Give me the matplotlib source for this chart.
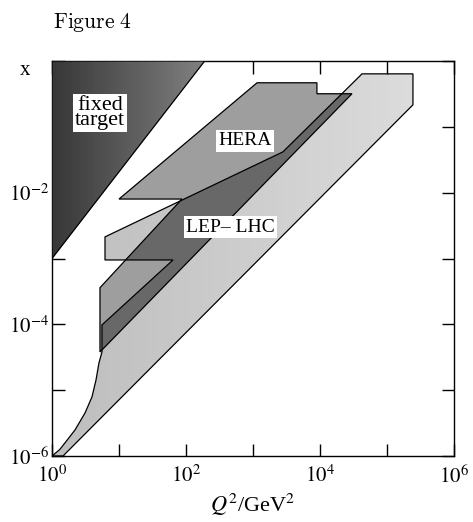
import numpy as np
import matplotlib.pyplot as plt
from matplotlib.patches import Polygon

plt.rcParams['font.family'] = ['Liberation Serif', 'DejaVu Serif']
plt.rcParams['mathtext.fontset'] = 'stix'

# kinematic regions (Q^2 in GeV^2, x)
fixed_q2 = [1, 190, 1]
fixed_x = [1, 1, 1e-3]

hera_q2 = [1150, 9000, 9000, 30000, 5.2, 5.2, 87, 10]
hera_x = [0.467, 0.467, 0.318, 0.318, 3.8e-5, 3.6e-4, 8.0e-3, 8.0e-3]

lep_q2 = [42400, 244000, 244000, 1.46, 1.0, 1.3, 1.56, 2.2, 3.11, 3.95, 4.54,
          5.02, 5.57, 5.57, 64, 6.18, 6.18, 2800]
lep_x = [0.638, 0.638, 0.216, 1e-6, 1e-6, 1.25e-6, 1.58e-6, 2.48e-6, 4.5e-6,
         7.9e-6, 1.43e-5, 2.59e-5, 3.8e-5, 9.8e-5, 9.5e-4, 9.5e-4, 2.13e-3, 0.0417]

xticks = [1, 10, 1e2, 1e3, 1e4, 1e5, 1e6]
xticklabels = ['$10^0$', '', '$10^2$', '', '$10^4$', '', '$10^6$']
yticks = [1e-6, 1e-5, 1e-4, 1e-3, 1e-2, 1e-1, 1]
yticklabels = ['$10^{-6}$', '', '$10^{-4}$', '', '$10^{-2}$', '', '']

fig = plt.figure(figsize=(4.73, 5.22), dpi=100)
ax = fig.add_axes([52/473, 66/522, 402/473, 395/522])
ax.set_xscale('log')
ax.set_yscale('log')
ax.set_xlim(1, 1e6)
ax.set_ylim(1e-6, 1)

# LEP-LHC (light), HERA (medium), overlap (dark)
lep = Polygon(np.column_stack([lep_q2, lep_x]), closed=True,
              facecolor='none', edgecolor='none', zorder=1)
ax.add_patch(lep)
qe = np.logspace(0, 5.5, 60)
lep_shade = np.linspace(0.74, 0.86, 59)[None, :]
lmesh = ax.pcolormesh(qe, [1e-6, 1], lep_shade, cmap='gray', vmin=0, vmax=1,
                      shading='flat', zorder=1)
lmesh.set_clip_path(lep)

hera = Polygon(np.column_stack([hera_q2, hera_x]), closed=True,
               facecolor='#9e9e9e', edgecolor='none', zorder=2)
ax.add_patch(hera)
overlap = Polygon(np.column_stack([hera_q2, hera_x]), closed=True,
                  facecolor='#686868', edgecolor='none', zorder=3)
ax.add_patch(overlap)
overlap.set_clip_path(lep)

for q, xx in [(lep_q2, lep_x), (hera_q2, hera_x)]:
    ax.add_patch(Polygon(np.column_stack([q, xx]), closed=True, facecolor='none',
                         edgecolor='black', lw=0.9, zorder=4))

# fixed target, dark towards the left edge
ft = Polygon(np.column_stack([fixed_q2, fixed_x]), closed=True, facecolor='none',
             edgecolor='black', lw=0.9, zorder=5)
ax.add_patch(ft)
qf = np.logspace(0, 2.3, 40)
shade = np.linspace(0.22, 0.5, 39)[None, :]
mesh = ax.pcolormesh(qf, [1e-3, 1], shade, cmap='gray', vmin=0, vmax=1,
                     shading='flat', zorder=4.5)
mesh.set_clip_path(ft)

box = dict(facecolor='white', edgecolor='none', pad=1.5)
ax.text(5.2, 0.163, 'fixed\ntarget', fontsize=16, ha='center', va='center',
        linespacing=0.72, bbox=box, zorder=6)
ax.text(760, 0.061, 'HERA', fontsize=14, ha='center', va='center', bbox=box, zorder=6)
ax.text(454, 3.0e-3, 'LEP– LHC', fontsize=14, ha='center', va='center', bbox=box, zorder=6)

ax.minorticks_off()
ax.set_xticks(xticks)
ax.set_xticklabels(xticklabels)
ax.set_yticks(yticks)
ax.set_yticklabels(yticklabels)
ax.tick_params(direction='in', length=9, width=1, top=True, right=True,
               labelsize=15)
ax.tick_params(axis='x', pad=7)
ax.tick_params(axis='y', pad=2)
for s in ax.spines.values():
    s.set_linewidth(1.0)

ax.set_xlabel('$Q^2$/GeV$^2$', fontsize=16, labelpad=3)
ax.text(-0.066, 0.975, 'x', transform=ax.transAxes, fontsize=15,
        ha='center', va='center')

fig.text(53/473, 1 - 22/522, r'$\mathrm{Figure\ 4}$', math_fontfamily='cm',
         fontsize=15.5, ha='left', va='center')

fig.savefig('out.png', dpi=100)
